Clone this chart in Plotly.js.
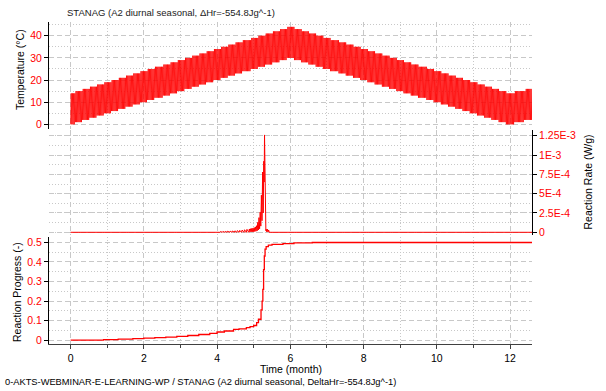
<!DOCTYPE html>
<html>
<head>
<meta charset="utf-8">
<script src="https://cdn.plot.ly/plotly-3.0.1.min.js"></script>
<style>html,body{margin:0;padding:0;background:#fff;}#chart{width:606px;height:391px;}</style>
</head>
<body>
<div id="chart"></div>
<script>
// ---- data ----
// daily minimum / maximum temperature (°C), one value per day from day 0
const lowT = [
0,0,0,0,
1,1,1,1,1,1, 2,2,2,2,2,2, 3,3,3,3,3,3, 4,4,4,4,4,4, 5,5,5,5,5,5,
6,6,6,6,6,6, 7,7,7,7,7,7, 8,8,8,8,8,8, 9,9,9,9,9,9, 10,10,10,10,10,10,
11,11,11,11,11,11, 12,12,12,12,12,12,12,
13,13,13,13,13,13, 14,14,14,14,14,14, 15,15,15,15,15,15, 16,16,16,16,16,16,
17,17,17,17,17,17, 18,18,18,18,18,18, 19,19,19,19,19,19, 20,20,20,20,20,20,
21,21,21,21,21,21, 22,22,22,22,22,22, 23,23,23,23,23,23,
24,24,24,24,24,24,24,
25,25,25,25,25,25, 26,26,26,26,26,26, 27,27,27,27,27,27, 28,28,28,28,28,28,
29,29,29,29,29,29, 30,30,30,30,30,30,
29,29,29,29,29,29, 28,28,28,28,28,28, 27,27,27,27,27,27, 26,26,26,26,26,26,
25,25,25,25,25,25,
24,24,24,24,24,24,24,
23,23,23,23,23,23, 22,22,22,22,22,22, 21,21,21,21,21,21, 20,20,20,20,20,20,
19,19,19,19,19,19, 18,18,18,18,18,18, 17,17,17,17,17,17, 16,16,16,16,16,16,
15,15,15,15,15,15, 14,14,14,14,14,14, 13,13,13,13,13,13,
12,12,12,12,12,12,12,
11,11,11,11,11,11, 10,10,10,10,10,10, 9,9,9,9,9,9, 8,8,8,8,8,8,
7,7,7,7,7,7, 6,6,6,6,6,6, 5,5,5,5,5,5, 4,4,4,4,4,4, 3,3,3,3,3,3,
2,2,2,2,2,2, 1,1,1,1,1,1,
0,0,0,0,0,0,0,
1,1,1,1,1,1, 1,1,2,2,2,2,2,2,2
];
const highT = [
14,14,14,14,
15,15,15,15,15,15, 16,16,16,16,16,16, 17,17,17,17,17,17, 18,18,18,18,18,18, 19,19,19,19,19,19,
20,20,20,20,20,20, 21,21,21,21,21,21, 22,22,22,22,22,22, 23,23,23,23,23,23, 24,24,24,24,24,24,
25,25,25,25,25,25, 26,26,26,26,26,26,26,
27,27,27,27,27,27, 28,28,28,28,28,28, 29,29,29,29,29,29, 30,30,30,30,30,30,
31,31,31,31,31,31, 32,32,32,32,32,32, 33,33,33,33,33,33, 34,34,34,34,34,34,
35,35,35,35,35,35, 36,36,36,36,36,36, 37,37,37,37,37,37,
38,38,38,38,38,38,38,
39,39,39,39,39,39, 40,40,40,40,40,40, 41,41,41,41,41,41, 42,42,42,42,42,42,
43,43,43,43,43,43, 44,44,44,44,44,44,
43,43,43,43,43,43, 42,42,42,42,42,42, 41,41,41,41,41,41, 40,40,40,40,40,40,
39,39,39,39,39,39,
38,38,38,38,38,38,38,
37,37,37,37,37,37, 36,36,36,36,36,36, 35,35,35,35,35,35, 34,34,34,34,34,34,
33,33,33,33,33,33, 32,32,32,32,32,32, 31,31,31,31,31,31, 30,30,30,30,30,30,
29,29,29,29,29,29, 28,28,28,28,28,28, 27,27,27,27,27,27,
26,26,26,26,26,26,26,
25,25,25,25,25,25, 24,24,24,24,24,24, 23,23,23,23,23,23, 22,22,22,22,22,22,
21,21,21,21,21,21, 20,20,20,20,20,20, 19,19,19,19,19,19, 18,18,18,18,18,18, 17,17,17,17,17,17,
16,16,16,16,16,16, 15,15,15,15,15,15,
14,14,14,14,14,14,14,
15,15,15,15,15,15, 15,15,15,16,16,16,16,16,16
];
const DAYS_PER_MONTH = 30.42;

// reaction rate (W/g) against time in days
const rateDay = [0,
124,124.5, 126,126.5, 128,128.5, 130,130.5, 132,132.5, 134,134.5, 136,136.5,
138,138.5, 140,140.5, 142,142.5, 144,144.5, 146,146.5, 148,148.5,
149,149.5, 150,150.5, 151,151.5, 152,152.5, 153,153.5, 154,154.5, 155,155.5,
156,156.5, 157,157.5, 158,158.5, 159,159.5, 160,160.5, 160.8,161.1,
161.5,161.8, 162.2,162.5, 163,163.5, 164,164.5, 165, 384];
const rateValue = [0,
0,1.0e-5, 0,1.1e-5, 0,1.2e-5, 0,1.4e-5, 0,1.5e-5, 0,1.7e-5, 0,1.9e-5,
0,2.2e-5, 0,2.5e-5, 0,2.9e-5, 0,3.3e-5, 0,3.8e-5, 0,4.3e-5,
5e-6,4.6e-5, 6e-6,5.0e-5, 7e-6,5.4e-5, 8e-6,6.0e-5, 1.0e-5,7.0e-5, 1.4e-5,8.5e-5, 2.0e-5,1.3e-4,
3.0e-5,1.9e-4, 4.5e-5,2.6e-4, 8e-5,4.8e-4, 1.5e-4,7.8e-4, 2.5e-4,9.2e-4, 6.5e-4,1.26e-3,
3.5e-4,1.2e-4, 2e-5,4e-5, 5e-6,4e-5, 5e-6,3e-5, 0, 0];

// reaction progress (-) against time in months
const progMonth = [0, 0.9, 1.3, 1.7, 2.0, 2.3, 2.6, 2.9, 3.2, 3.5, 3.8, 4.0, 4.2, 4.45, 4.6, 4.8, 4.9,
  5.0, 5.08, 5.13, 5.2, 5.23, 5.25, 5.27, 5.29, 5.31, 5.34, 5.4, 5.5, 5.8, 6.1, 6.6, 12.6];
const progValue = [0, 0.003, 0.005, 0.008, 0.011, 0.013, 0.016, 0.020, 0.024, 0.029, 0.035, 0.042, 0.047, 0.055, 0.058, 0.064, 0.069,
  0.075, 0.09, 0.107, 0.155, 0.2, 0.26, 0.36, 0.43, 0.465, 0.478, 0.486, 0.489, 0.493, 0.497, 0.499, 0.5];

const rateTicks = [0, 2.5e-4, 5e-4, 7.5e-4, 1e-3, 1.25e-3];
const rateTickText = ['0', '2.5E-4', '5E-4', '7.5E-4', '1E-3', '1.25E-3'];

// ---- build traces ----
const tempY = [];
for (let i = 0; i < lowT.length; i++) { tempY.push(lowT[i], highT[i]); }
const rateX = rateDay.map(d => d / DAYS_PER_MONTH);

const RED = '#ff0000';
const GRID = '#c8c8c8';
const FONT = 'Liberation Sans, Arial, sans-serif';

const traces = [
  {type:'scatter', mode:'lines', y:tempY, x0:0, dx:0.5 / DAYS_PER_MONTH,
   xaxis:'x', yaxis:'y', line:{color:RED, width:0.8}, hoverinfo:'skip'},
  {type:'scatter', mode:'lines', x:rateX, y:rateValue,
   xaxis:'x', yaxis:'y2', line:{color:RED, width:1}, hoverinfo:'skip'},
  {type:'scatter', mode:'lines', x:progMonth, y:progValue,
   xaxis:'x', yaxis:'y3', line:{color:RED, width:1.3, shape:'hv'}, hoverinfo:'skip'}
];

const PL = 49, PR = 532, PT = 22, PB = 344;
const W = PR - PL, H = PB - PT;
const px2x = p => (p - PL) / W;
const py2y = p => (PB - p) / H;

const gridCommon = {showgrid:true, gridcolor:GRID, gridwidth:1, griddash:'5px,3px', zeroline:false, automargin:false};
const minorCommon = {showgrid:true, gridcolor:GRID, gridwidth:1, griddash:'1px,2px'};

const layout = {
  width:606, height:391,
  margin:{l:PL, r:606 - PR, t:PT, b:391 - PB, pad:0},
  paper_bgcolor:'#ffffff', plot_bgcolor:'#ffffff',
  showlegend:false,
  font:{family:FONT, size:10, color:'#000'},
  xaxis:Object.assign({}, gridCommon, {
    domain:[0,1], anchor:'y3', range:[-0.59, 12.6], tickmode:'linear', tick0:0, dtick:2,
    showline:true, linecolor:'#404040', linewidth:1, ticks:'outside', ticklen:4, tickcolor:'#404040',
    tickfont:{family:FONT, size:10.5, color:'#000'},
    minor:Object.assign({}, minorCommon, {tickmode:'linear', tick0:0, dtick:1, ticks:'outside', ticklen:3, tickcolor:'#404040'})
  }),
  yaxis:Object.assign({}, gridCommon, {
    domain:[py2y(129), 1], anchor:'x', range:[-2.1, 46.2], tickmode:'linear', tick0:0, dtick:10,
    showline:true, linecolor:'#000', linewidth:1, ticks:'outside', ticklen:4, tickcolor:'#000',
    tickfont:{family:FONT, size:10.5, color:RED},
    minor:Object.assign({}, minorCommon, {tickmode:'linear', tick0:0, dtick:5})
  }),
  yaxis2:Object.assign({}, gridCommon, {
    domain:[py2y(235), py2y(130)], anchor:'x', side:'right', range:[-3.5e-5, 1.324e-3],
    tickmode:'array', tickvals:rateTicks, ticktext:rateTickText,
    showline:true, linecolor:'#000', linewidth:1, ticks:'outside', ticklen:4, tickcolor:'#000',
    tickfont:{family:FONT, size:10.5, color:RED},
    minor:Object.assign({}, minorCommon, {tickmode:'linear', tick0:0, dtick:1.25e-4})
  }),
  yaxis3:Object.assign({}, gridCommon, {
    domain:[0, py2y(237)], anchor:'x', range:[-0.0194, 0.527], tickmode:'linear', tick0:0, dtick:0.1,
    showline:true, linecolor:'#000', linewidth:1, ticks:'outside', ticklen:4, tickcolor:'#000',
    tickfont:{family:FONT, size:10.5, color:RED},
    minor:Object.assign({}, minorCommon, {tickmode:'linear', tick0:0, dtick:0.05})
  }),
  annotations:[
    {text:'STANAG (A2 diurnal seasonal, ΔHr=-554.8Jg^-1)', xref:'paper', yref:'paper',
     x:px2x(65), y:py2y(12), xanchor:'left', yanchor:'middle', showarrow:false,
     font:{family:FONT, size:9.5, color:'#1a1a1a'}},
    {text:'Temperature (°C)', xref:'paper', yref:'paper', x:px2x(20), y:py2y(70),
     xanchor:'center', yanchor:'middle', textangle:-90, showarrow:false,
     font:{family:FONT, size:10.5, color:'#000'}},
    {text:'Reaction Rate (W/g)', xref:'paper', yref:'paper', x:px2x(587), y:py2y(182.5),
     xanchor:'center', yanchor:'middle', textangle:-90, showarrow:false,
     font:{family:FONT, size:10.5, color:'#000'}},
    {text:'Reaction Progress (-)', xref:'paper', yref:'paper', x:px2x(17), y:py2y(292),
     xanchor:'center', yanchor:'middle', textangle:-90, showarrow:false,
     font:{family:FONT, size:10.5, color:'#000'}},
    {text:'Time (month)', xref:'paper', yref:'paper', x:px2x(291), y:py2y(369),
     xanchor:'center', yanchor:'middle', showarrow:false,
     font:{family:FONT, size:10.5, color:'#000'}},
    {text:'0-AKTS-WEBMINAR-E-LEARNING-WP / STANAG (A2 diurnal seasonal, DeltaHr=-554.8Jg^-1)',
     xref:'paper', yref:'paper', x:px2x(3), y:py2y(382), xanchor:'left', yanchor:'middle', showarrow:false,
     font:{family:FONT, size:9.3, color:'#000'}}
  ]
};

Plotly.newPlot('chart', traces, layout, {staticPlot:true, displayModeBar:false});
</script>
</body>
</html>
